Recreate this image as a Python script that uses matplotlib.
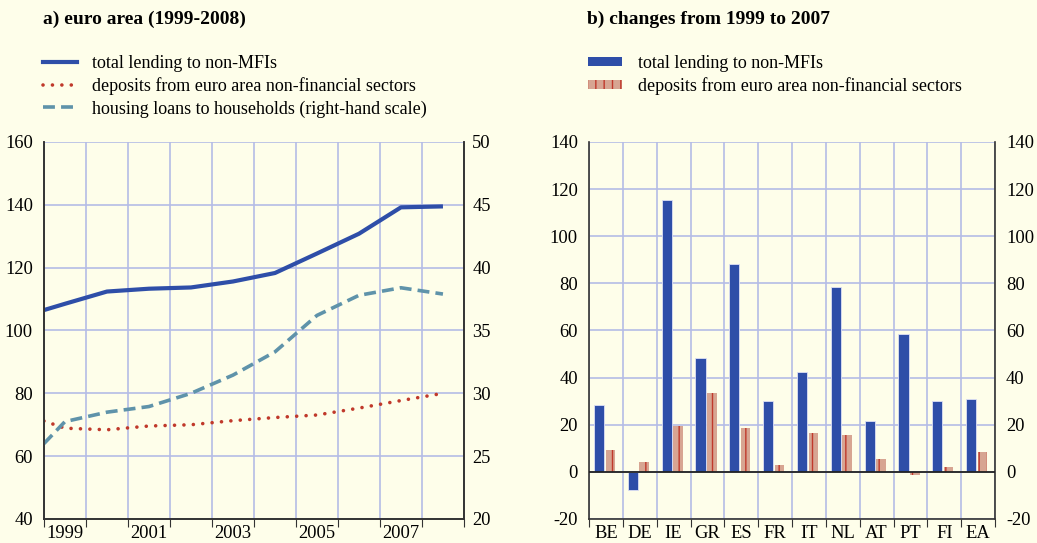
import numpy as np
import matplotlib.pyplot as plt
from matplotlib.lines import Line2D
from matplotlib.patches import Patch

plt.rcParams['font.family'] = ['Liberation Serif', 'DejaVu Serif']
plt.rcParams['hatch.linewidth'] = 1.0
plt.rcParams['axes.unicode_minus'] = False

# panel a: euro area, annual data (mid-year points)
years = [1999.0, 1999.5, 2000.5, 2001.5, 2002.5, 2003.5, 2004.5, 2005.5, 2006.5, 2007.5, 2008.5]
lending = [106.5, 108.5, 112.4, 113.3, 113.7, 115.6, 118.3, 124.5, 130.8, 139.2, 139.5]
deposits = [71.2, 68.9, 68.4, 69.6, 70.0, 71.3, 72.3, 73.1, 75.3, 77.7, 80.0]
housing = [26.0, 27.75, 28.5, 28.95, 30.0, 31.45, 33.3, 36.2, 37.8, 38.4, 37.9]

# panel b: changes 1999-2007
countries = ['BE', 'DE', 'IE', 'GR', 'ES', 'FR', 'IT', 'NL', 'AT', 'PT', 'FI', 'EA']
chg_lending = [28.2, -7.6, 115.5, 48.4, 88.3, 29.9, 42.2, 78.5, 21.6, 58.6, 30.1, 31.1]
chg_deposits = [9.3, 4.4, 19.6, 33.3, 18.8, 3.1, 16.4, 15.7, 5.4, -1.3, 2.0, 8.6]

bg = '#fefeea'
blue = '#2e4ea8'
red = '#c0392b'
teal = '#5f93aa'
grid = '#b4bce6'
salmon = '#d7a592'
fs = 13.3   # tick labels
lfs = 13    # legend

fig = plt.figure(figsize=(10.37, 5.43), dpi=100, facecolor=bg)

# ---- panel a
ax1 = fig.add_axes([0.0424, 0.0442, 0.405, 0.6943], facecolor=bg)
ax1.plot(years, lending, color=blue, lw=3.0, solid_capstyle='butt')
ax1.plot(years, deposits, color=red, lw=2.6, linestyle=(0, (0.01, 2.6)), dash_capstyle='round')
ax2 = ax1.twinx()
ax2.plot(years, housing, color=teal, lw=2.6, linestyle=(0, (3.3, 1.7)))
ax1.set_xlim(1999, 2009)
ax1.set_ylim(40, 160)
ax2.set_ylim(20, 50)
ax1.set_yticks(range(40, 161, 20))
ax2.set_yticks(range(20, 51, 5))
ax1.set_xticks(range(1999, 2010))
ax1.set_xticklabels([])
ax1.set_xticks([y + 0.5 for y in range(1999, 2009, 2)], minor=True)
ax1.set_xticklabels([str(y) for y in range(1999, 2009, 2)], minor=True)
ax1.tick_params(axis='x', which='major', direction='out', length=6, color='#333333')
ax1.tick_params(axis='x', which='minor', length=0, pad=4, labelsize=fs)
ax1.tick_params(axis='y', length=0, pad=8, labelsize=fs)
ax2.tick_params(axis='y', length=0, pad=6, labelsize=fs)
ax1.grid(True, color=grid, lw=1.2)
ax1.set_axisbelow(True)
for a in (ax1, ax2):
    a.spines['top'].set_visible(False)
    for s in ('left', 'right', 'bottom'):
        a.spines[s].set_color('#333333')
        a.spines[s].set_linewidth(1.2)

fig.text(0.0415, 0.965, 'a) euro area (1999-2008)', fontsize=14, fontweight='bold', va='center')
h1 = [Line2D([], [], color=blue, lw=3.0),
      Line2D([], [], color=red, lw=2.6, linestyle=(0, (0.01, 2.6)), dash_capstyle='round'),
      Line2D([], [], color=teal, lw=2.6, linestyle=(0, (3.3, 1.7)))]
fig.legend(h1, ['total lending to non-MFIs', 'deposits from euro area non-financial sectors',
                'housing loans to households (right-hand scale)'],
           loc='upper left', bbox_to_anchor=(0.041, 0.899), frameon=False, fontsize=lfs,
           handlelength=1.9, handletextpad=0.85, labelspacing=0.3, borderpad=0, borderaxespad=0)

# ---- panel b
ax3 = fig.add_axes([0.568, 0.0442, 0.3915, 0.6943], facecolor=bg)
x = np.arange(len(countries))
ax3.bar(x - 0.205, chg_lending, width=0.3, color=blue, edgecolor='#dde0f5', lw=0.6, zorder=3)
ax3.bar(x + 0.13, chg_deposits, width=0.28, color=salmon, edgecolor=red, lw=0,
        hatch='||', zorder=3)
ax3.axhline(0, color='#222222', lw=1.3, zorder=4)
ax3.set_xlim(-0.5, len(countries) - 0.5)
ax3.set_ylim(-20, 140)
ax3.set_yticks(range(-20, 141, 20))
ax3.set_xticks(np.arange(-0.5, len(countries)))
ax3.set_xticklabels([])
ax3.set_xticks(x, minor=True)
ax3.set_xticklabels(countries, minor=True)
ax3.tick_params(axis='x', which='major', direction='out', length=6, color='#333333')
ax3.tick_params(axis='x', which='minor', length=0, pad=4, labelsize=fs)
ax3.tick_params(axis='y', length=0, pad=8, labelsize=fs, labelright=True)
ax3.grid(True, color=grid, lw=1.2)
ax3.set_axisbelow(True)
ax3.spines['top'].set_visible(False)
for s in ('left', 'right', 'bottom'):
    ax3.spines[s].set_color('#333333')
    ax3.spines[s].set_linewidth(1.2)

fig.text(0.566, 0.965, 'b) changes from 1999 to 2007', fontsize=14, fontweight='bold', va='center')
h2 = [Patch(facecolor=blue, edgecolor='none'),
      Patch(facecolor=salmon, edgecolor=red, lw=0, hatch='||')]
fig.legend(h2, ['total lending to non-MFIs', 'deposits from euro area non-financial sectors'],
           loc='upper left', bbox_to_anchor=(0.567, 0.899), frameon=False, fontsize=lfs,
           handlelength=1.9, handleheight=0.4, handletextpad=0.85, labelspacing=0.3,
           borderpad=0, borderaxespad=0)

fig.savefig('out.png', dpi=100, facecolor=bg)
